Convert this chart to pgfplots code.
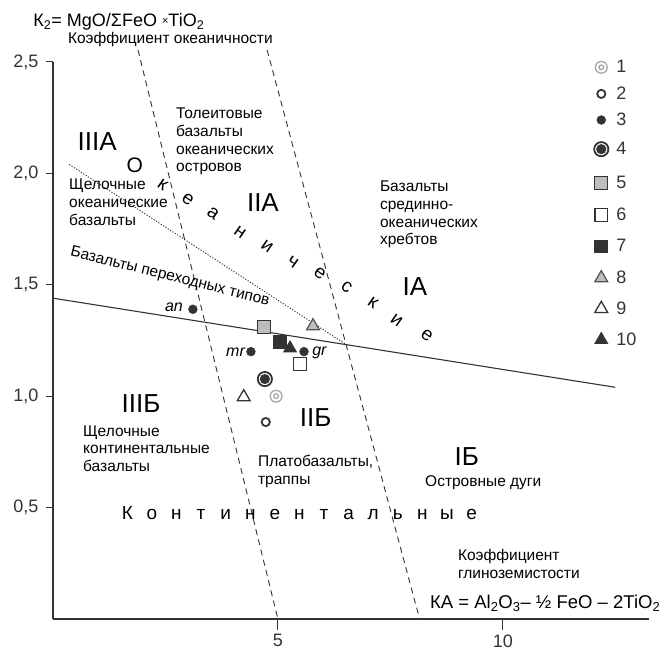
\documentclass[border=0pt]{standalone}
\usepackage{fontspec}
\setmainfont{Liberation Sans}
\usepackage{pgfplots}
\pgfplotsset{compat=1.18}

\definecolor{ink}{HTML}{333333}
\definecolor{lgray}{HTML}{A6A6A6}
\definecolor{mgray}{HTML}{BDBDBD}

% double ring and ringed dot markers
\pgfdeclareplotmark{dcirc}{%
  \pgfpathcircle{\pgfpointorigin}{\pgfplotmarksize}\pgfusepathqstroke
  \pgfpathcircle{\pgfpointorigin}{0.4\pgfplotmarksize}\pgfusepathqstroke}
\pgfdeclareplotmark{cdot}{%
  \pgfpathcircle{\pgfpointorigin}{\pgfplotmarksize}\pgfusepathqstroke
  \pgfpathcircle{\pgfpointorigin}{0.58\pgfplotmarksize}\pgfusepathqfillstroke}

% legend image with a fixed row half-height
\pgfplotsset{lrow/.style={legend image code/.code={%
  \path (8.5bp,-#1) (8.5bp,#1);
  \draw[mark repeat=2,mark phase=2,##1] plot coordinates {(0bp,0bp) (8.5bp,0bp) (17bp,0bp)};}}}

\newcommand\txt{\fontsize{15.5bp}{17.7bp}\selectfont}
\newcommand\rom{\fontsize{26bp}{26bp}\selectfont}
\newcommand\wordfont{\fontsize{19bp}{19bp}\selectfont}
\newcommand\spl[1]{\makebox[24.6bp][c]{#1}}

\begin{document}
\begin{tikzpicture}
\useasboundingbox (-53bp,-32bp) rectangle (619bp,619bp);
\begin{axis}[
  scale only axis, width=596bp, height=557bp,
  xmin=0, xmax=13.25, ymin=0, ymax=2.5,
  axis lines=left, axis line style={-, ink, line width=1.1bp},
  clip=false,
  xtick=\empty, minor xtick={1,2,3,4,6,7,8,9,11,12,13},
  extra x ticks={5,10}, extra x tick style={major tick length=11bp},
  ytick={0.5,1,1.5,2,2.5},
  tick align=outside, major tick length=7bp, minor tick length=6bp,
  tick style={ink, line width=1bp},
  ticklabel style={font=\fontsize{18bp}{18bp}\selectfont, text=ink,
    /pgf/number format/assume math mode=true},
  xticklabel style={yshift=-1bp},
  yticklabel style={xshift=-4bp, /pgf/number format/.cd, fixed, fixed zerofill, precision=1, use comma},
  legend style={at={(axis description cs:0.9077,1.0144)}, anchor=north west,
    draw=none, fill=none, inner sep=0pt, row sep=0pt, column sep=8bp,
    nodes={inner sep=0pt, text=ink, font=\fontsize{18bp}{18bp}\selectfont}},
  legend cell align=left,
  every node/.append style={text=ink},
]
% field boundaries
\addplot[forget plot, ink, line width=0.9bp, dash pattern=on 6bp off 4.5bp] coordinates {(1.89,2.554) (5,0)};
\addplot[forget plot, ink, line width=0.9bp, dash pattern=on 6bp off 4.5bp] coordinates {(4.76,2.554) (8.15,0)};
\addplot[forget plot, ink, line width=1.1bp] coordinates {(0,1.44) (12.5,1.04)};
\addplot[forget plot, ink, line width=0.9bp, dash pattern=on 1.2bp off 1.6bp] coordinates {(0.36,2.04) (6.53,1.23)};

% samples
\addplot[only marks, lrow=12.5bp, color=lgray, mark=dcirc, mark size=5.9bp, line width=1.3bp] coordinates {(4.96,1.00)};
\addlegendentry{1}
\addplot[only marks, lrow=12.5bp, color=ink, mark=o, mark size=4.1bp, line width=1.8bp] coordinates {(4.73,0.884)};
\addlegendentry{2}
\addplot[only marks, lrow=12.5bp, color=ink, mark=*, mark size=4.4bp, line width=0.5bp] coordinates {(3.11,1.39) (4.40,1.20) (5.58,1.20)};
\addlegendentry{3}
\addplot[only marks, lrow=15.5bp, color=ink, fill=ink, mark=cdot, mark size=7.1bp, line width=1.8bp] coordinates {(4.71,1.077)};
\addlegendentry{4}
\addplot[only marks, lrow=17bp, draw=ink, fill=mgray, mark=square*, mark size=6.4bp, line width=1.2bp] coordinates {(4.69,1.31)};
\addlegendentry{5}
\addplot[only marks, lrow=13.5bp, draw=ink, fill=white, mark=square*, mark size=6.4bp, line width=1.3bp] coordinates {(5.49,1.145)};
\addlegendentry{6}
\addplot[only marks, lrow=17bp, draw=ink, fill=ink, mark=square*, mark size=6.4bp, line width=0.8bp] coordinates {(5.04,1.245)};
\addlegendentry{7}
\addplot[only marks, lrow=13.5bp, draw=ink!85, fill=mgray, mark=triangle*, mark size=7.4bp, line width=1.2bp] coordinates {(5.78,1.315)};
\addlegendentry{8}
\addplot[only marks, lrow=16bp, draw=ink, fill=white, mark=triangle*, mark size=7.4bp, line width=1.3bp] coordinates {(4.24,0.996)};
\addlegendentry{9}
\addplot[only marks, lrow=14bp, draw=ink, fill=ink, mark=triangle*, mark size=7.4bp, line width=0.8bp] coordinates {(5.27,1.215)};
\addlegendentry{10}

% axis captions
\node[anchor=west, inner sep=0pt, font=\fontsize{18bp}{18bp}\selectfont] at (axis cs:-0.44,2.68)
  {К\textsubscript{2}= MgO/ΣFeO \raisebox{2bp}{\fontsize{11bp}{11bp}\selectfont×}TiO\textsubscript{2}};
\node[anchor=west, inner sep=0pt, font=\txt] at (axis cs:0.33,2.60) {Коэффициент океаничности};
\node[anchor=west, inner sep=0pt, font=\fontsize{18.5bp}{18.5bp}\selectfont] at (axis cs:8.38,0.072)
  {КА = Al\textsubscript{2}O\textsubscript{3}– ½ FeO – 2TiO\textsubscript{2}};
\node[anchor=north west, inner sep=0pt, align=left, font=\txt] at (axis cs:9.0,0.314)
  {Коэффициент\\глиноземистости};

% field labels
\node[font=\rom, inner sep=0pt] at (axis cs:0.98,2.141) {IIIA};
\node[font=\rom, inner sep=0pt] at (axis cs:4.667,1.867) {IIA};
\node[font=\rom, inner sep=0pt] at (axis cs:8.044,1.490) {IA};
\node[font=\rom, inner sep=0pt] at (axis cs:1.956,0.969) {IIIБ};
\node[font=\rom, inner sep=0pt] at (axis cs:5.84,0.902) {IIБ};
\node[font=\rom, inner sep=0pt] at (axis cs:9.2,0.727) {IБ};

\node[anchor=north west, inner sep=0pt, align=left, font=\txt] at (axis cs:2.733,2.294)
  {Толеитовые\\базальты\\океанических\\островов};
\node[anchor=north west, inner sep=0pt, align=left, font=\txt] at (axis cs:0.356,1.975)
  {Щелочные\\океанические\\базальты};
\node[anchor=north west, inner sep=0pt, align=left, font=\txt] at (axis cs:7.267,1.966)
  {Базальты\\срединно-\\океанических\\хребтов};
\node[anchor=north west, inner sep=0pt, align=left, font=\txt] at (axis cs:0.667,0.870)
  {Щелочные\\континентальные\\базальты};
\node[anchor=north west, inner sep=0pt, align=left, font=\txt] at (axis cs:4.556,0.736)
  {Платобазальты,\\траппы};
\node[anchor=north west, inner sep=0pt, align=left, font=\txt] at (axis cs:8.27,0.642)
  {Островные дуги};
\node[rotate=-14, inner sep=0pt, font=\txt] at (axis cs:2.6,1.535) {Базальты переходных типов};

% sample labels
\node[anchor=east, inner sep=0pt, font=\fontsize{16bp}{16bp}\selectfont\itshape] at (axis cs:2.89,1.40) {an};
\node[anchor=east, inner sep=0pt, font=\fontsize{16bp}{16bp}\selectfont\itshape] at (axis cs:4.27,1.198) {mr};
\node[anchor=west, inner sep=0pt, font=\fontsize{16bp}{16bp}\selectfont\itshape] at (axis cs:5.76,1.194) {gr};

% series words
\node[inner sep=0pt, font=\wordfont] at (axis cs:5.48,0.476)
  {\spl{К}\spl{о}\spl{н}\spl{т}\spl{и}\spl{н}\spl{е}\spl{н}\spl{т}\spl{а}\spl{л}\spl{ь}\spl{н}\spl{ы}\spl{е}};
\node[inner sep=0pt, font=\fontsize{21bp}{21bp}\selectfont] at (axis cs:1.82,2.038) {О};
\node[inner sep=0pt, font=\wordfont, rotate=-35] at (axis cs:2.44,1.948) {к};
\node[inner sep=0pt, font=\wordfont, rotate=-35] at (axis cs:3.00,1.881) {е};
\node[inner sep=0pt, font=\wordfont, rotate=-35] at (axis cs:3.56,1.822) {а};
\node[inner sep=0pt, font=\wordfont, rotate=-35] at (axis cs:4.16,1.737) {н};
\node[inner sep=0pt, font=\wordfont, rotate=-35] at (axis cs:4.76,1.670) {и};
\node[inner sep=0pt, font=\wordfont, rotate=-35] at (axis cs:5.33,1.602) {ч};
\node[inner sep=0pt, font=\wordfont, rotate=-35] at (axis cs:5.93,1.553) {е};
\node[inner sep=0pt, font=\wordfont, rotate=-35] at (axis cs:6.53,1.490) {с};
\node[inner sep=0pt, font=\wordfont, rotate=-35] at (axis cs:7.11,1.418) {к};
\node[inner sep=0pt, font=\wordfont, rotate=-35] at (axis cs:7.64,1.342) {и};
\node[inner sep=0pt, font=\wordfont, rotate=-35] at (axis cs:8.31,1.275) {е};
\end{axis}
\end{tikzpicture}
\end{document}
